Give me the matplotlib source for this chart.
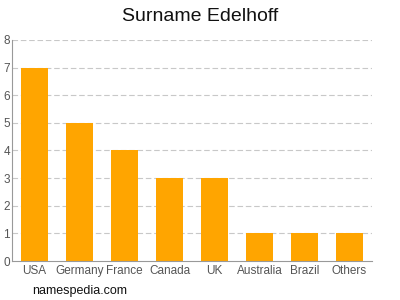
import matplotlib
matplotlib.use("Agg")
import matplotlib.pyplot as plt
import numpy as np

# chart data
countries = ["USA", "Germany", "France", "Canada", "UK", "Australia", "Brazil", "Others"]
counts = [7, 5, 4, 3, 3, 1, 1, 1]
y_ticks = [0, 1, 2, 3, 4, 5, 6, 7, 8]

plt.rcParams['font.family'] = ['Liberation Sans', 'DejaVu Sans']

fig = plt.figure(figsize=(4, 3), dpi=100)
ax = fig.add_axes([0.03, 0.13, 0.9, 0.737])

x = np.arange(len(countries))
ax.bar(x, counts, width=0.62, color="#FFA500", zorder=2)

ax.set_xlim(-0.5, len(countries) - 0.5)
ax.set_ylim(0, 8)
ax.set_yticks(y_ticks)
ax.set_xticks(x)
ax.set_xticklabels(countries)
ax.tick_params(axis='both', labelsize=8.5, colors="#555555", length=0, pad=3)
ax.tick_params(axis='y', pad=1.5)

# dashed grid
for v in y_ticks[1:]:
    ax.axhline(v, color="#c8c8c8", linestyle=(0, (5, 2.5)), linewidth=0.8, zorder=1)

for s in ["top", "right"]:
    ax.spines[s].set_visible(False)
ax.spines["left"].set_color("#999999")
ax.spines["bottom"].set_color("#999999")

fig.text(0.5, 0.945, "Surname Edelhoff", ha="center", va="center", fontsize=14, color="#111111")
fig.text(0.08, 0.03, "namespedia.com", ha="left", va="center", fontsize=9, color="#111111")

fig.savefig("out.png", dpi=100)
